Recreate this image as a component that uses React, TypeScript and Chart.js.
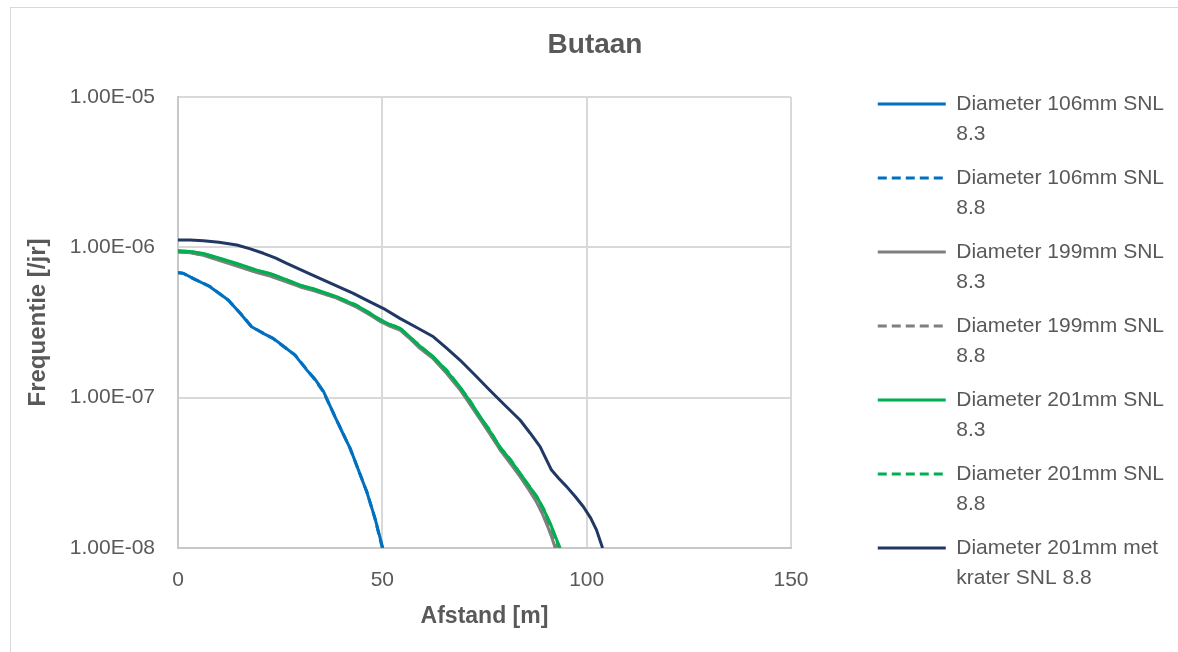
import React, { useEffect, useRef } from 'react';
import { Chart, registerables } from 'chart.js';

Chart.register(...registerables);

// ---------- data ----------
const chartTitle = 'Butaan';
const xAxisTitle = 'Afstand [m]';
const yAxisTitle = 'Frequentie [/jr]';

const xTickValues = [0, 50, 100, 150];
const xTickLabels = ['0', '50', '100', '150'];
const yTickValues = [1e-8, 1e-7, 1e-6, 1e-5];
const yTickLabels = ['1.00E-08', '1.00E-07', '1.00E-06', '1.00E-05'];

const seriesLabels = [
  ['Diameter 106mm SNL', '8.3'],
  ['Diameter 106mm SNL', '8.8'],
  ['Diameter 199mm SNL', '8.3'],
  ['Diameter 199mm SNL', '8.8'],
  ['Diameter 201mm SNL', '8.3'],
  ['Diameter 201mm SNL', '8.8'],
  ['Diameter 201mm met', 'krater SNL 8.8'],
];

const d106_83_x = [0, 1.3, 3.7, 7.8, 12.3, 15.2, 18.0, 20.6, 23.3, 26.0, 28.6, 31.5, 33.6, 35.6, 38.4, 40.3, 42.1, 43.7, 46.2, 48.2, 50.1];
const d106_83_y = [6.78e-7, 6.72e-7, 6.22e-7, 5.47e-7, 4.46e-7, 3.64e-7, 2.96e-7, 2.7e-7, 2.48e-7, 2.18e-7, 1.92e-7, 1.53e-7, 1.32e-7, 1.1e-7, 7.47e-8, 5.82e-8, 4.62e-8, 3.56e-8, 2.36e-8, 1.58e-8, 1.0e-8];

const d106_88_x = [0, 1.3, 3.7, 7.8, 12.3, 15.2, 18.0, 20.6, 23.3, 26.0, 28.6, 31.5, 33.6, 35.6, 38.4, 40.3, 42.1, 43.7, 46.2, 48.2, 50.0];
const d106_88_y = [6.8e-7, 6.7e-7, 6.2e-7, 5.5e-7, 4.45e-7, 3.66e-7, 2.97e-7, 2.71e-7, 2.47e-7, 2.17e-7, 1.93e-7, 1.54e-7, 1.31e-7, 1.09e-7, 7.5e-8, 5.85e-8, 4.6e-8, 3.55e-8, 2.37e-8, 1.57e-8, 1.0e-8];

const d199_83_x = [0, 3, 6.2, 10, 14.4, 19.3, 22.5, 26.5, 29.9, 33.1, 38.8, 43.7, 47, 49.4, 51.5, 54.3, 57, 59.2, 62.5, 65.8, 69, 71.5, 73.9, 76.3, 78.8, 81.3, 83.7, 85.8, 87.6, 89.2, 90.6, 91.5, 92.3];
const d199_83_y = [9.3e-7, 9.2e-7, 8.85e-7, 8.2e-7, 7.5e-7, 6.8e-7, 6.45e-7, 5.9e-7, 5.45e-7, 5.15e-7, 4.6e-7, 4.0e-7, 3.55e-7, 3.22e-7, 3.02e-7, 2.82e-7, 2.43e-7, 2.13e-7, 1.81e-7, 1.44e-7, 1.13e-7, 9.0e-8, 7.2e-8, 5.75e-8, 4.5e-8, 3.65e-8, 2.98e-8, 2.45e-8, 2.05e-8, 1.68e-8, 1.36e-8, 1.17e-8, 1.0e-8];

const d199_88_x = [0, 3, 6.2, 10, 14.4, 19.3, 22.5, 26.5, 29.9, 33.1, 38.8, 43.7, 47, 49.4, 51.5, 54.3, 57, 59.2, 62.5, 65.8, 69, 71.5, 73.9, 76.3, 78.8, 81.3, 83.7, 85.8, 87.7, 89.3, 90.8, 91.8, 92.6];
const d199_88_y = [9.35e-7, 9.22e-7, 8.9e-7, 8.25e-7, 7.55e-7, 6.85e-7, 6.5e-7, 5.95e-7, 5.5e-7, 5.2e-7, 4.62e-7, 4.03e-7, 3.58e-7, 3.24e-7, 3.04e-7, 2.84e-7, 2.45e-7, 2.15e-7, 1.83e-7, 1.46e-7, 1.15e-7, 9.1e-8, 7.3e-8, 5.8e-8, 4.55e-8, 3.7e-8, 3.02e-8, 2.48e-8, 2.08e-8, 1.7e-8, 1.38e-8, 1.18e-8, 1.0e-8];

const d201_83_x = [0, 3, 6.2, 10, 14.4, 19.3, 22.5, 26.5, 29.9, 33.1, 38.8, 43.7, 47, 49.4, 51.5, 54.3, 57, 59.2, 62.5, 65.8, 69, 71.5, 73.9, 76.3, 78.8, 81.3, 83.7, 85.8, 87.8, 89.5, 91.1, 92.3, 93.5];
const d201_83_y = [9.5e-7, 9.4e-7, 9.1e-7, 8.5e-7, 7.8e-7, 7.05e-7, 6.7e-7, 6.1e-7, 5.6e-7, 5.3e-7, 4.7e-7, 4.1e-7, 3.65e-7, 3.3e-7, 3.1e-7, 2.9e-7, 2.5e-7, 2.2e-7, 1.87e-7, 1.5e-7, 1.18e-7, 9.4e-8, 7.5e-8, 6.0e-8, 4.7e-8, 3.85e-8, 3.15e-8, 2.6e-8, 2.2e-8, 1.8e-8, 1.46e-8, 1.2e-8, 1.0e-8];

const d201_88_x = [0, 3, 6.2, 10, 14.4, 19.3, 22.5, 26.5, 29.9, 33.1, 38.8, 43.7, 47, 49.4, 51.5, 54.3, 57, 59.2, 62.5, 65.8, 69, 71.5, 73.9, 76.3, 78.8, 81.3, 83.7, 85.8, 87.8, 89.5, 91.0, 92.2, 93.3];
const d201_88_y = [9.45e-7, 9.38e-7, 9.05e-7, 8.45e-7, 7.75e-7, 7.0e-7, 6.68e-7, 6.08e-7, 5.58e-7, 5.28e-7, 4.68e-7, 4.12e-7, 3.62e-7, 3.32e-7, 3.08e-7, 2.92e-7, 2.48e-7, 2.22e-7, 1.85e-7, 1.52e-7, 1.17e-7, 9.5e-8, 7.4e-8, 6.1e-8, 4.65e-8, 3.9e-8, 3.12e-8, 2.62e-8, 2.18e-8, 1.82e-8, 1.44e-8, 1.22e-8, 1.0e-8];

const d201k_88_x = [0, 3, 6.2, 10, 14.4, 17.5, 20.9, 23.8, 26.6, 30.5, 34.7, 38.8, 42.9, 46.5, 50.2, 54.3, 58.4, 62.5, 65.8, 69.0, 72.6, 76.3, 80, 83.7, 86.2, 88.6, 91.4, 93.2, 95.1, 97.2, 99.2, 101, 102.4, 103.9];
const d201k_88_y = [1.12e-6, 1.117e-6, 1.107e-6, 1.08e-6, 1.036e-6, 9.8e-7, 9.13e-7, 8.5e-7, 7.83e-7, 7.0e-7, 6.22e-7, 5.55e-7, 4.94e-7, 4.4e-7, 3.93e-7, 3.37e-7, 2.93e-7, 2.54e-7, 2.13e-7, 1.78e-7, 1.42e-7, 1.12e-7, 8.9e-8, 7.1e-8, 5.8e-8, 4.72e-8, 3.3e-8, 2.9e-8, 2.56e-8, 2.2e-8, 1.88e-8, 1.58e-8, 1.32e-8, 1.0e-8];

const seriesX = [d106_83_x, d106_88_x, d199_83_x, d199_88_x, d201_83_x, d201_88_x, d201k_88_x];
const seriesY = [d106_83_y, d106_88_y, d199_83_y, d199_88_y, d201_83_y, d201_88_y, d201k_88_y];

// ---------- styles ----------
const seriesColors = ['#0070C0', '#0070C0', '#7F7F7F', '#7F7F7F', '#00B050', '#00B050', '#203864'];
const seriesDashed = [false, true, false, true, false, true, false];

const FONT = "'Liberation Sans', Arial, sans-serif";
const TEXT = '#595959';
const GRID = '#D9D9D9';

export default function App() {
  const canvasRef = useRef<HTMLCanvasElement | null>(null);

  useEffect(() => {
    const canvas = canvasRef.current;
    if (!canvas) return;

    const datasets = seriesX.map((xs, i) => ({
      label: seriesLabels[i] as any,
      data: xs.map((x, j) => ({ x, y: seriesY[i][j] })),
      borderColor: seriesColors[i],
      backgroundColor: seriesColors[i],
      borderWidth: 3,
      borderDash: seriesDashed[i] ? [9, 5] : [],
      pointRadius: 0,
      pointHoverRadius: 0,
      tension: 0,
      fill: false,
      yAxisID: 'y',
      xAxisID: 'x',
      order: seriesX.length - 1 - i,
      borderJoinStyle: 'round' as const,
    }));

    const chart = new Chart(canvas, {
      type: 'line',
      data: { datasets },
      options: {
        animation: false,
        responsive: false,
        devicePixelRatio: 1,
        events: [],
        layout: { padding: { left: 16, right: 4, top: 0, bottom: 0 } },
        plugins: {
          title: {
            display: true,
            text: chartTitle,
            color: TEXT,
            font: { family: FONT, size: 28, weight: 'bold' },
            padding: { top: 28, bottom: 35.4 },
          },
          legend: {
            display: true,
            position: 'right',
            align: 'start',
            maxWidth: 400,
            title: {
              display: true,
              text: ' ',
              font: { family: FONT, size: 12 },
              padding: { top: 65.1, bottom: 0 },
            },
            labels: {
              usePointStyle: true,
              pointStyle: 'line',
              pointStyleWidth: 68,
              padding: 14,
              color: TEXT,
              font: { family: FONT, size: 21, lineHeight: 30 / 21 },
              sort: (a: any, b: any) => a.datasetIndex - b.datasetIndex,
              generateLabels: (ch: any) => {
                const items = (Chart.defaults.plugins.legend.labels as any).generateLabels(ch);
                items.forEach((it: any) => {
                  const ds = ch.data.datasets[it.datasetIndex];
                  it.lineDash = ds.borderDash;
                  it.strokeStyle = ds.borderColor;
                  it.fillStyle = ds.borderColor;
                  it.lineWidth = ds.borderWidth;
                  it.lineCap = 'butt';
                  it.pointStyle = 'line';
                });
                return items;
              },
            },
          },
          tooltip: { enabled: false },
        },
        scales: {
          x: {
            type: 'linear',
            position: 'bottom',
            min: 0,
            max: 150,
            afterFit: (scale: any) => {
              scale.height = 104;
            },
            afterBuildTicks: (scale: any) => {
              scale.ticks = xTickValues.map((value) => ({ value }));
            },
            ticks: {
              autoSkip: false,
              maxRotation: 0,
              padding: 20,
              color: TEXT,
              font: { family: FONT, size: 21 },
              callback: (_v: any, i: number) => xTickLabels[i],
            },
            grid: { color: GRID, lineWidth: 2, drawTicks: false },
            border: { display: true, color: '#C8C8C8', width: 2 },
            title: {
              display: true,
              text: xAxisTitle,
              color: TEXT,
              font: { family: FONT, size: 23, weight: 'bold' },
              padding: { top: 0, bottom: 21.2 },
            },
          },
          y: {
            type: 'logarithmic',
            position: 'left',
            min: 1e-8,
            max: 1e-5,
            afterFit: (scale: any) => {
              scale.width = 162;
            },
            afterBuildTicks: (scale: any) => {
              scale.ticks = yTickValues.map((value) => ({ value }));
            },
            ticks: {
              autoSkip: false,
              padding: 23,
              color: TEXT,
              font: { family: FONT, size: 21 },
              callback: (_v: any, i: number) => yTickLabels[i],
            },
            grid: { color: GRID, lineWidth: 2, drawTicks: false },
            border: { display: true, color: '#C8C8C8', width: 2 },
            title: {
              display: true,
              text: yAxisTitle,
              color: TEXT,
              font: { family: FONT, size: 24, weight: 'bold' },
              padding: { top: 7.6, bottom: 0 },
            },
          },
          y2: {
            type: 'linear',
            position: 'right',
            display: true,
            afterFit: (scale: any) => {
              scale.width = 72.8;
            },
            ticks: { display: false },
            grid: { display: false, drawTicks: false },
            border: { display: false },
          },
        },
      } as any,
    });

    return () => {
      chart.destroy();
    };
  }, []);

  return (
    <div style={{ position: 'absolute', left: 0, top: 0, width: 1178, height: 652, overflow: 'hidden', background: '#FFFFFF' }}>
      <div
        style={{
          position: 'absolute',
          left: 10,
          top: 7,
          width: 1300,
          height: 800,
          border: '1.5px solid #D9D9D9',
          boxSizing: 'border-box',
        }}
      />
      <canvas
        ref={canvasRef}
        width={1178}
        height={652}
        style={{ position: 'absolute', left: 0, top: 0, width: 1178, height: 652, display: 'block' }}
      />
    </div>
  );
}
